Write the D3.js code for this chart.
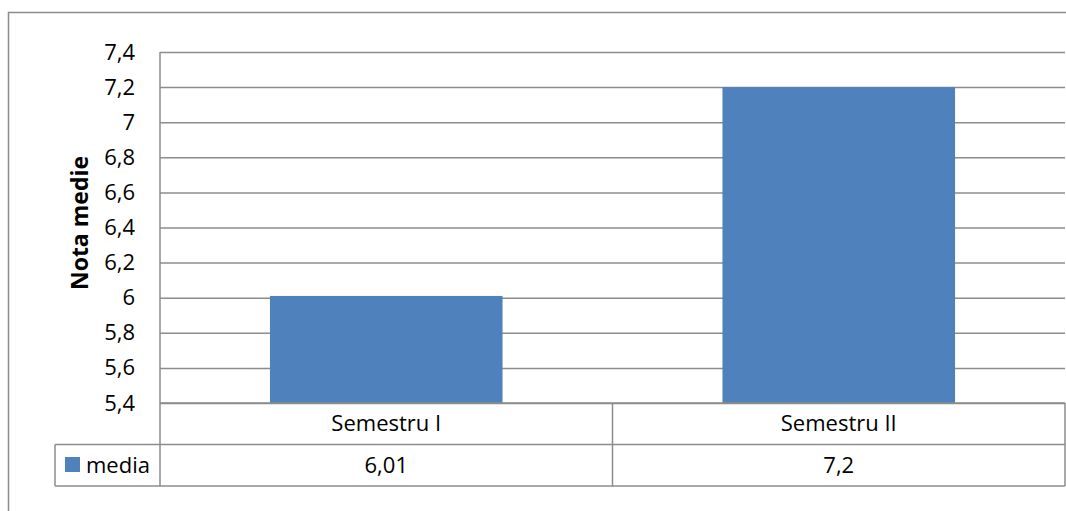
<!DOCTYPE html>
<html><head><meta charset="utf-8">
<script src="https://cdn.jsdelivr.net/npm/d3@7"></script>
<style>
html,body{margin:0;padding:0;background:#fff;overflow:hidden;}
text{font-family:"Open Sans",sans-serif;fill:#000;}
</style></head>
<body>
<svg id="chart" width="1066" height="511"></svg>
<script>
const categories = ["Semestru I", "Semestru II"];
const mediaValues = [6.01, 7.2];
const valueLabels = ["6,01", "7,2"];
const yTicks = [5.4, 5.6, 5.8, 6.0, 6.2, 6.4, 6.6, 6.8, 7.0, 7.2, 7.4];
const seriesName = "media";
const axisTitle = "Nota medie";

const svg = d3.select("#chart");
const W = 1066, H = 511;
const plot = {left: 160, right: 1065, top: 52, bottom: 403};
const rowH = 41.5;
const legendLeft = 55;
const gridColor = "#8c8c8c";
const barColor = "#4f81bd";
const fs = 22;

// outer chart border
svg.append("rect").attr("x", 8.5).attr("y", 12.5).attr("width", W + 20).attr("height", H + 20)
  .attr("fill", "#fff").attr("stroke", gridColor).attr("stroke-width", 1.5);

const y = d3.scaleLinear().domain([5.4, 7.4]).range([plot.bottom, plot.top]);
const x = d3.scaleBand().domain(categories).range([plot.left, plot.right]);

// gridlines via axis
const fmt = v => (Math.round(v * 10) / 10).toString().replace(".", ",");
const gAxis = svg.append("g").attr("transform", `translate(${plot.left},0)`)
  .call(d3.axisLeft(y).tickValues(yTicks).tickFormat(fmt).tickSize(-(plot.right - plot.left)).tickPadding(25));
gAxis.select(".domain").remove();
gAxis.selectAll(".tick line").attr("stroke", gridColor).attr("stroke-width", 1.5);
gAxis.selectAll(".tick text").attr("font-size", fs).attr("font-family", "Open Sans").attr("fill", "#000");

// bars
const barFrac = 0.514;
svg.append("g").selectAll("rect").data(categories).join("rect")
  .attr("x", (d) => x(d) + x.bandwidth() * (1 - barFrac) / 2)
  .attr("width", x.bandwidth() * barFrac)
  .attr("y", (d, i) => y(mediaValues[i]))
  .attr("height", (d, i) => y(5.4) - y(mediaValues[i]))
  .attr("fill", barColor);

// table lines
const line = (x1, y1, x2, y2) => svg.append("line").attr("x1", x1).attr("y1", y1).attr("x2", x2).attr("y2", y2)
  .attr("stroke", gridColor).attr("stroke-width", 1.5);
const r1 = plot.bottom, r2 = plot.bottom + rowH, r3 = plot.bottom + 2 * rowH;
line(plot.left, plot.top, plot.left, r3);           // left axis line
line(plot.left, r1, plot.right, r1);
line(legendLeft, r2, plot.right, r2);
line(legendLeft, r3, plot.right, r3);
line(legendLeft, r2, legendLeft, r3);
categories.forEach(c => line(x(c) + x.bandwidth(), r1, x(c) + x.bandwidth(), r3));

// category labels and values
svg.append("g").selectAll("text").data(categories).join("text")
  .attr("x", d => x(d) + x.bandwidth() / 2).attr("y", (r1 + r2) / 2)
  .attr("dy", "0.35em").attr("text-anchor", "middle").attr("font-size", fs).text(d => d);
svg.append("g").selectAll("text").data(valueLabels).join("text")
  .attr("x", (d, i) => x(categories[i]) + x.bandwidth() / 2).attr("y", (r2 + r3) / 2)
  .attr("dy", "0.35em").attr("text-anchor", "middle").attr("font-size", fs).text(d => d);

// legend key
svg.append("rect").attr("x", 65).attr("y", 457).attr("width", 15).attr("height", 15).attr("fill", barColor);
svg.append("text").attr("x", 86).attr("y", (r2 + r3) / 2).attr("dy", "0.35em")
  .attr("font-size", fs).text(seriesName);

// axis title
svg.append("text").attr("transform", `translate(80,223) rotate(-90)`)
  .attr("text-anchor", "middle").attr("dy", "0.35em").attr("font-size", 23).attr("font-weight", "bold")
  .text(axisTitle);
</script>
</body></html>
